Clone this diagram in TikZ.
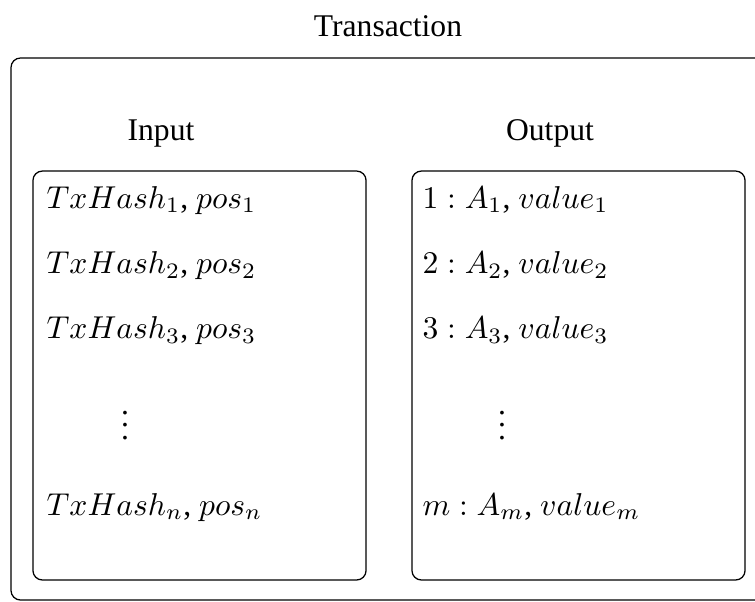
\documentclass[tikz,border=0pt]{standalone}
\usepackage{fontspec}
\setmainfont{Liberation Serif}
\usetikzlibrary{positioning}

\begin{document}
\begin{tikzpicture}[x=0.3164pt,y=-0.3164pt,
roundbox/.style={rectangle, draw=black, rounded corners=3pt},
listbox/.style={roundbox, minimum width=105.4pt, minimum height=129.4pt},
title/.style={anchor=base, inner sep=0pt},
entry/.style={anchor=base west, inner sep=0pt},
]
\clip (0,0) rectangle (755,601);
%Boxes
\draw[roundbox] (11,58) rectangle (790,600);
\node[listbox](Input Box) at (199.5,375.5){};
\node[listbox](Output Box) at (578.5,375.5){};

%Titles
\node[title](Transaction) at (388,36){Transaction};
\node[title](Input) at (161,140){Input};
\node[title](Output) at (550,140){Output};

%Input entries
\node[entry](In 1) at (46,208){$TxHash_1$, $pos_1$};
\node[entry](In 2)[below=20.7pt of In 1.base west, anchor=base west]{$TxHash_2$, $pos_2$};
\node[entry](In 3)[below=20.7pt of In 2.base west, anchor=base west]{$TxHash_3$, $pos_3$};
\node(In Dots) at (125,416){$\vdots$};
\node[entry](In n) at (46,515){$TxHash_n$, $pos_n$};

%Output entries
\node[entry](Out 1) at (422,208){$1:A_1$, $value_1$};
\node[entry](Out 2)[below=20.7pt of Out 1.base west, anchor=base west]{$2:A_2$, $value_2$};
\node[entry](Out 3)[below=20.7pt of Out 2.base west, anchor=base west]{$3:A_3$, $value_3$};
\node(Out Dots) at (502,416){$\vdots$};
\node[entry](Out m) at (422,515){$m:A_m$, $value_m$};
\end{tikzpicture}
\end{document}
